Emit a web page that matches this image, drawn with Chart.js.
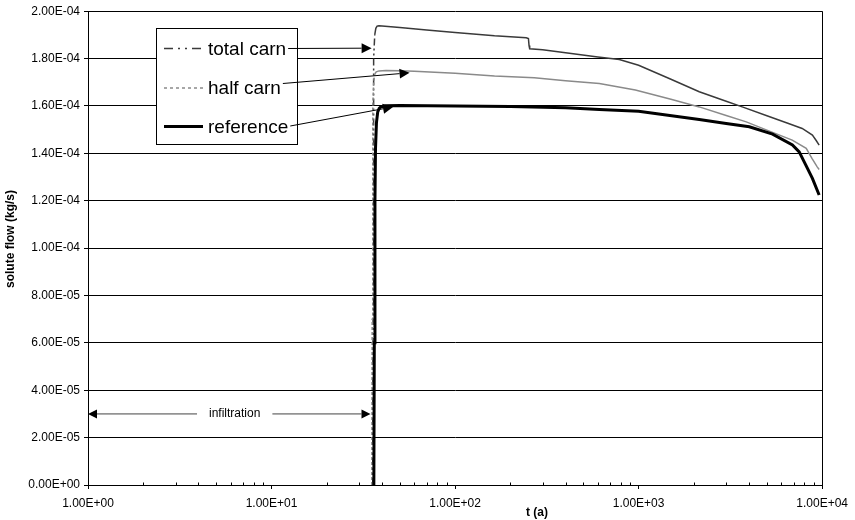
<!DOCTYPE html>
<html>
<head>
<meta charset="utf-8">
<script src="https://cdn.jsdelivr.net/npm/chart.js@4.4.0/dist/chart.umd.min.js"></script>
<style>
html,body{margin:0;padding:0;background:#fff;}
#wrap{width:855px;height:520px;position:relative;}
</style>
</head>
<body>
<div id="wrap"><canvas id="c" width="855" height="520"></canvas></div>
<script>
// ---------- data ----------
const seriesNames = ['total carn', 'half carn', 'reference'];

const totalCarnT    = [35.6,35.75,35.9,36.1,36.5,37.0,37.6,38.5,40,50,70,100,164,244,251,253,255,300,400,600,785,1000,1500,2140,3000,3670,5000,6500,7785,8850,9300,9630];
const totalCarnFlow = [0,0.7e-4,1.4e-4,1.8e-4,1.9e-4,1.928e-4,1.937e-4,1.939e-4,1.938e-4,1.931e-4,1.921e-4,1.910e-4,1.896e-4,1.888e-4,1.885e-4,1.855e-4,1.841e-4,1.837e-4,1.825e-4,1.807e-4,1.796e-4,1.772e-4,1.713e-4,1.660e-4,1.620e-4,1.596e-4,1.559e-4,1.527e-4,1.505e-4,1.477e-4,1.453e-4,1.435e-4];

const halfCarnT    = [35.2,35.35,35.5,35.7,36.0,36.5,37.2,38.5,42,50,60,100,164,270,400,611,960,1500,2140,3000,3860,5000,6870,8190,8800,9400,9630];
const halfCarnFlow = [0,0.7e-4,1.3e-4,1.6e-4,1.7e-4,1.735e-4,1.744e-4,1.748e-4,1.75e-4,1.749e-4,1.747e-4,1.738e-4,1.726e-4,1.719e-4,1.706e-4,1.695e-4,1.667e-4,1.628e-4,1.596e-4,1.560e-4,1.533e-4,1.498e-4,1.456e-4,1.421e-4,1.379e-4,1.343e-4,1.332e-4];

const referenceT    = [36.1,36.3,36.6,36.85,37.3,37.9,38.6,39.5,42,50,100,200,400,611,1000,2140,3000,4010,5370,6890,7500,8150,8850,9630];
const referenceFlow = [0,0.6e-4,1.2e-4,1.42e-4,1.53e-4,1.575e-4,1.59e-4,1.597e-4,1.601e-4,1.602e-4,1.600e-4,1.598e-4,1.592e-4,1.585e-4,1.578e-4,1.543e-4,1.526e-4,1.512e-4,1.481e-4,1.435e-4,1.406e-4,1.35e-4,1.294e-4,1.224e-4];

const xTickLabels = ['1.00E+00','1.00E+01','1.00E+02','1.00E+03','1.00E+04'];
const yTickLabels = ['0.00E+00','2.00E-05','4.00E-05','6.00E-05','8.00E-05','1.00E-04','1.20E-04','1.40E-04','1.60E-04','1.80E-04','2.00E-04'];
const xTitle = 't (a)';
const yTitle = 'solute flow (kg/s)';
const infiltrationLabel = 'infiltration';

// annotation anchors (data coordinates): arrow tips for each legend entry
const arrowTipT    = [35.1, 56.5, 45.9];
const arrowTipFlow = [1.844e-4, 1.74e-4, 1.596e-4];
// infiltration span (t from/to, flow level, label centre t)
const infiltrationSpan = [1, 34.6];
const infiltrationLevel = 3e-5;
const infiltrationLabelT = 6.3;

// ---------- styles ----------
const FONT = '"Liberation Sans", Arial, sans-serif';
const colors = ['#3a3a3a', '#8a8a8a', '#000000'];
const widths = [1.5, 1.5, 3];
const riseDash = [[7,3,2,3,2,3], [3,2], []];
const legendDash = [[9,5,2,5,2,5], [3,3], []];

function pts(t, f){ return t.map((v,i)=>({x:v, y:f[i]})); }
function isPow10(v){ const l = Math.log10(v); return Math.abs(l - Math.round(l)) < 1e-9; }

const seriesData = [pts(totalCarnT,totalCarnFlow), pts(halfCarnT,halfCarnFlow), pts(referenceT,referenceFlow)];

const datasets = seriesData.map((d,i)=>({
  label: seriesNames[i],
  data: d,
  showLine: true,
  borderColor: colors[i],
  backgroundColor: colors[i],
  borderWidth: widths[i],
  pointRadius: 0,
  pointHoverRadius: 0,
  tension: 0,
  fill: false,
  order: 2 - i,
  segment: {
    borderDash: c => (c.p1.parsed.y - c.p0.parsed.y > 3e-6) ? riseDash[i] : []
  }
}));

function arrow(ctx, x0, y0, x1, y1, len, half){
  const ang = Math.atan2(y1-y0, x1-x0);
  const bx = x1 - len*Math.cos(ang), by = y1 - len*Math.sin(ang);
  ctx.beginPath(); ctx.moveTo(x0,y0); ctx.lineTo(bx,by); ctx.stroke();
  ctx.beginPath();
  ctx.moveTo(x1,y1);
  ctx.lineTo(bx + half*Math.sin(ang), by - half*Math.cos(ang));
  ctx.lineTo(bx - half*Math.sin(ang), by + half*Math.cos(ang));
  ctx.closePath(); ctx.fill();
}

const overlay = {
  id: 'overlay',
  afterDraw(chart){
    const {ctx, chartArea: a, scales: {x, y}} = chart;
    ctx.save();
    ctx.strokeStyle = '#000'; ctx.fillStyle = '#000'; ctx.lineWidth = 1;
    // right border of plot area
    const rx = Math.round(a.right) + 0.5;
    ctx.beginPath(); ctx.moveTo(rx, a.top); ctx.lineTo(rx, a.bottom); ctx.stroke();
    // minor x ticks (inside)
    const by = Math.round(a.bottom) + 0.5;
    for (let d = 0; d < 4; d++) for (let k = 2; k <= 9; k++) {
      const px = Math.round(x.getPixelForValue(k*Math.pow(10,d))) + 0.5;
      ctx.beginPath(); ctx.moveTo(px, by); ctx.lineTo(px, by-3); ctx.stroke();
    }
    // infiltration double arrow
    const iy = y.getPixelForValue(infiltrationLevel);
    const ix0 = x.getPixelForValue(infiltrationSpan[0]);
    const ix1 = x.getPixelForValue(infiltrationSpan[1]);
    const ic = x.getPixelForValue(infiltrationLabelT);
    ctx.font = '12px ' + FONT;
    const tw = ctx.measureText(infiltrationLabel).width;
    ctx.strokeStyle = '#444';
    arrow(ctx, ic - tw/2 - 12, iy, ix0, iy, 9, 4.5);
    arrow(ctx, ic + tw/2 + 12, iy, ix1, iy, 9, 4.5);
    ctx.fillStyle = '#000';
    ctx.textAlign = 'center'; ctx.textBaseline = 'middle';
    ctx.fillText(infiltrationLabel, ic, iy);

    // legend box
    const L = {x: 156.5, y: 28.5, w: 141, h: 116};
    ctx.fillStyle = '#fff'; ctx.strokeStyle = '#000'; ctx.lineWidth = 1;
    ctx.fillRect(L.x, L.y, L.w, L.h); ctx.strokeRect(L.x, L.y, L.w, L.h);
    const rowY = [48.5, 88, 126.5];
    const baseY = [55, 93.5, 132.5];
    ctx.font = '19px ' + FONT;
    ctx.textAlign = 'left'; ctx.textBaseline = 'alphabetic';
    const starts = [];
    for (let i = 0; i < 3; i++){
      ctx.save();
      ctx.strokeStyle = colors[i]; ctx.lineWidth = widths[i];
      ctx.setLineDash(legendDash[i]);
      ctx.beginPath(); ctx.moveTo(164, rowY[i]); ctx.lineTo(203, rowY[i]); ctx.stroke();
      ctx.restore();
      ctx.fillStyle = '#000';
      ctx.fillText(seriesNames[i], 208, baseY[i]);
      starts.push(208 + ctx.measureText(seriesNames[i]).width + 2);
    }
    // legend arrows
    ctx.strokeStyle = '#000'; ctx.fillStyle = '#000'; ctx.lineWidth = 1;
    const startY = [48.5, 83.5, 126];
    for (let i = 0; i < 3; i++){
      arrow(ctx, starts[i], startY[i], x.getPixelForValue(arrowTipT[i]), y.getPixelForValue(arrowTipFlow[i]), 10, 5);
    }
    // axis titles
    ctx.fillStyle = '#000';
    ctx.font = 'bold 12px ' + FONT;
    ctx.textAlign = 'center'; ctx.textBaseline = 'middle';
    ctx.fillText(xTitle, 537, 512.5);
    ctx.save();
    ctx.translate(11, 239);
    ctx.rotate(-Math.PI/2);
    ctx.fillText(yTitle, 0, 0);
    ctx.restore();
    ctx.restore();
  }
};

new Chart(document.getElementById('c'), {
  type: 'scatter',
  data: { datasets },
  options: {
    responsive: false,
    animation: false,
    devicePixelRatio: 1,
    layout: { padding: { top: 11, right: 32, left: 0, bottom: 0 } },
    plugins: { legend: { display: false }, tooltip: { enabled: false } },
    scales: {
      x: {
        type: 'logarithmic',
        min: 1, max: 10000,
        afterFit: s => { s.height = 35; },
        border: { display: true, color: '#000', width: 1 },
        grid: {
          drawOnChartArea: false, drawTicks: true, tickLength: 4,
          color: c => (c.tick && isPow10(c.tick.value)) ? '#000' : 'rgba(0,0,0,0)'
        },
        ticks: {
          autoSkip: false, maxRotation: 0, padding: 7,
          color: '#000', font: { family: FONT, size: 12 },
          callback: v => isPow10(v) ? xTickLabels[Math.round(Math.log10(v))] : ''
        }
      },
      y: {
        type: 'linear',
        min: 0, max: 2e-4,
        afterFit: s => { s.width = 88; },
        border: { display: true, color: '#000', width: 1 },
        grid: { color: '#000', lineWidth: 1, tickLength: 4, drawTicks: true },
        ticks: {
          stepSize: 2e-5, maxTicksLimit: 20, padding: 4,
          color: '#000', font: { family: FONT, size: 12 },
          callback: v => yTickLabels[Math.round(v / 2e-5)]
        }
      }
    }
  },
  plugins: [overlay]
});
</script>
</body>
</html>
